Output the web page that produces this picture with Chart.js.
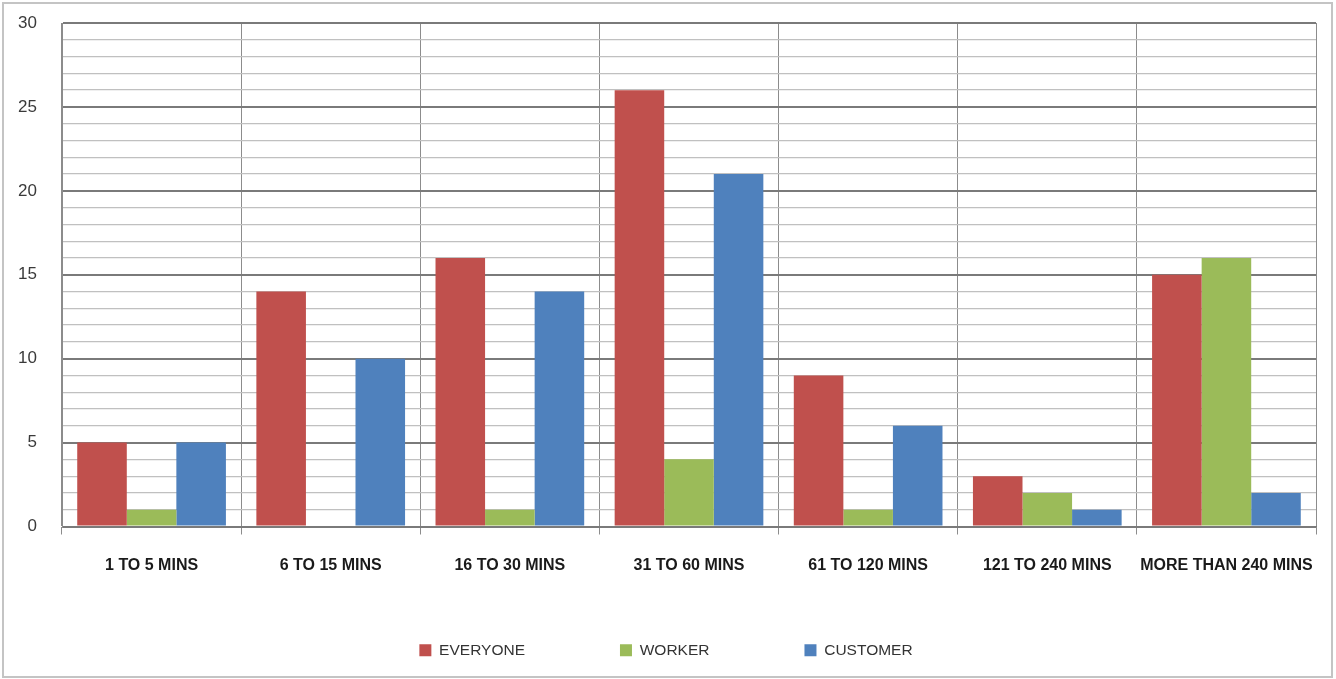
<!DOCTYPE html>
<html>
<head>
<meta charset="utf-8">
<title>Time spent</title>
<script src="https://cdn.jsdelivr.net/npm/chart.js@4.4.1/dist/chart.umd.min.js"></script>
<style>
  html, body { margin: 0; padding: 0; background: #ffffff; }
  #wrap { width: 1336px; height: 679px; }
</style>
</head>
<body>
<div id="wrap"><canvas id="chart" width="1336" height="679"></canvas></div>
<script>
// Duration buckets and counts per respondent group
const categories = ['1 TO 5 MINS', '6 TO 15 MINS', '16 TO 30 MINS', '31 TO 60 MINS', '61 TO 120 MINS', '121 TO 240 MINS', 'MORE THAN 240 MINS'];
const everyone = [5, 14, 16, 26, 9, 3, 15];
const worker   = [1, 0, 1, 4, 1, 2, 16];
const customer = [5, 10, 14, 21, 6, 1, 2];
const seriesNames = ['EVERYONE', 'WORKER', 'CUSTOMER'];
const yMax = 30;

const colors = ['#c0504d', '#9bbb59', '#4f81bd'];

// Light frame around the whole figure
const framePlugin = {
  id: 'frame',
  afterDraw(chart) {
    const ctx = chart.ctx;
    ctx.save();
    ctx.strokeStyle = '#c4c4c4';
    ctx.lineWidth = 2;
    ctx.strokeRect(3, 3, chart.width - 7, chart.height - 5);
    ctx.restore();
  }
};

new Chart(document.getElementById('chart'), {
  type: 'bar',
  data: {
    labels: categories,
    datasets: [
      { label: seriesNames[0], data: everyone, backgroundColor: colors[0] },
      { label: seriesNames[1], data: worker,   backgroundColor: colors[1] },
      { label: seriesNames[2], data: customer, backgroundColor: colors[2] }
    ]
  },
  options: {
    responsive: false,
    animation: false,
    devicePixelRatio: 1,
    categoryPercentage: 0.83,
    barPercentage: 1.0,
    layout: { padding: { top: 23, right: 20, bottom: 11, left: 16 } },
    plugins: {
      tooltip: { enabled: false },
      legend: {
        position: 'bottom',
        labels: {
          boxWidth: 12,
          boxHeight: 12,
          padding: 95,
          color: '#333333',
          font: { family: '"Liberation Sans", Arial, sans-serif', size: 15.5 }
        }
      }
    },
    scales: {
      x: {
        grid: {
          offset: true,
          color: '#8c8c8c',
          lineWidth: 1,
          drawTicks: true,
          tickLength: 8,
          tickColor: '#8c8c8c'
        },
        border: { display: true, color: '#7a7a7a', width: 1 },
        ticks: {
          padding: 21,
          color: '#1a1a1a',
          maxRotation: 0,
          autoSkip: false,
          font: { family: '"Liberation Sans", Arial, sans-serif', size: 16, weight: 'bold' }
        },
        afterFit(scale) {
          // keep the axis band short so the legend sits low; let labels spill below it
          scale.height = 21;
          scale._computeLabelArea = () => undefined;
        }
      },
      y: {
        min: 0,
        max: yMax,
        grid: {
          drawTicks: false,
          color: (c) => (c.tick && c.tick.value % 5 === 0) ? '#7a7a7a' : '#c0c0c0',
          lineWidth: (c) => (c.tick && c.tick.value % 5 === 0) ? 2 : 1.3
        },
        border: { display: true, color: '#8c8c8c', width: 1 },
        ticks: {
          stepSize: 1,
          autoSkip: false,
          padding: 25,
          color: '#3a3a3a',
          font: { family: '"Liberation Sans", Arial, sans-serif', size: 17 },
          callback: (v) => (v % 5 === 0 ? String(v) : '')
        },
        afterFit(scale) {
          scale.width = 46;
          // the tick padding is horizontal spacing only; do not let it push the plot down
          scale.paddingTop = 0;
          scale.paddingBottom = 0;
          scale._computeLabelArea = () => undefined;
        }
      }
    }
  },
  plugins: [framePlugin]
});
</script>
</body>
</html>
